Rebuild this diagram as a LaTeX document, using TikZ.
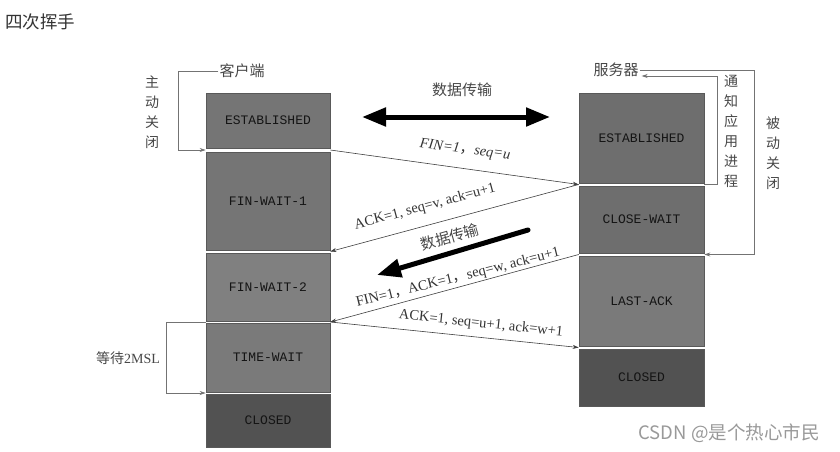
\documentclass[tikz,border=0pt]{standalone}
\usepackage{fontspec}
\setmainfont{Liberation Serif}
\setmonofont{Liberation Mono}
\newfontfamily\cjk{Noto Sans CJK SC}
\usetikzlibrary{arrows.meta,calc}
\begin{document}
\begin{tikzpicture}[x=1pt,y=-1pt,
  state/.style={draw=black!65, line width=0.6pt, text=black!92, font=\ttfamily\fontsize{13}{13}\selectfont, inner sep=0pt},
  cbox/.style={state, minimum width=124pt},
  sbox/.style={state, minimum width=125pt},
  cn/.style={font=\cjk\fontsize{15}{15}\selectfont, text=black!72, inner sep=1pt},
  vt/.style={font=\cjk\fontsize{14}{20}\selectfont, text=black!72, align=center, inner sep=0pt},
  msg/.style={draw=black!75, line width=0.6pt, -{Stealth[length=6pt,width=4pt]}},
  brk/.style={draw=black!55, line width=0.7pt},
  brka/.style={brk, -{Stealth[length=6pt,width=4pt]}},
  lbl/.style={font=\fontsize{14.5}{14.5}\selectfont, text=black!80, inner sep=0pt},
  big/.style={line width=5pt, black},
]
\useasboundingbox (0,0) rectangle (840,452);
\fill[white] (0,0) rectangle (840,452);

% title
\node[anchor=west, font=\cjk\fontsize{17.5}{17.5}\selectfont, text=black!80, inner sep=0pt] (title) at (5,22) {四次挥手};

% client boxes
\node[cbox, minimum height=55pt, fill=black!54] (cE)  at (268,120.5) {ESTABLISHED};
\node[cbox, minimum height=98pt, fill=black!54] (cF1) at (268,201)   {FIN-WAIT-1};
\node[cbox, minimum height=68pt, fill=black!50] (cF2) at (268,287)   {FIN-WAIT-2};
\node[cbox, minimum height=69pt, fill=black!52] (cT)  at (268,357.5) {TIME-WAIT};
\node[cbox, minimum height=53pt, fill=black!68] (cC)  at (268,420.5) {CLOSED};

% server boxes
\node[sbox, minimum height=90pt, fill=black!57] (sE)  at (641.5,138)   {ESTABLISHED};
\node[sbox, minimum height=67pt, fill=black!57] (sCW) at (641.5,219.5) {CLOSE-WAIT};
\node[sbox, minimum height=90pt, fill=black!52] (sL)  at (641.5,301)   {LAST-ACK};
\node[sbox, minimum height=57pt, fill=black!68] (sC)  at (641.5,377.5) {CLOSED};

% headers
\node[cn] (cl) at (242,71) {客户端};
\node[cn] (sv) at (616,70) {服务器};

% gap coordinates
\coordinate (cg1e) at ($(cE.south east)!0.5!(cF1.north east)$);
\coordinate (cg1w) at ($(cE.south west)!0.5!(cF1.north west)$);
\coordinate (cg2e) at ($(cF1.south east)!0.5!(cF2.north east)$);
\coordinate (cg3e) at ($(cF2.south east)!0.5!(cT.north east)$);
\coordinate (cg3w) at ($(cF2.south west)!0.5!(cT.north west)$);
\coordinate (cg4w) at ($(cT.south west)!0.5!(cC.north west)$);
\coordinate (sg1w) at ($(sE.south west)!0.5!(sCW.north west)$);
\coordinate (sg1e) at ($(sE.south east)!0.5!(sCW.north east)$);
\coordinate (sg2w) at ($(sCW.south west)!0.5!(sL.north west)$);
\coordinate (sg2e) at ($(sCW.south east)!0.5!(sL.north east)$);
\coordinate (sg3w) at ($(sL.south west)!0.5!(sC.north west)$);

% messages
\draw[msg] (cg1e) -- (sg1w);
\draw[msg] (sg1w) -- (cg2e);
\draw[msg] (sg2w) -- (cg3e);
\draw[msg] (cg3e) -- (sg3w);

\node[lbl, rotate=-7.5] (m1) at (465,150) {\itshape FIN=1{\cjk\upshape ，}seq=u};
\node[lbl, rotate=15] (m2) at (425,207) {ACK=1, seq=v, ack=u+1};
\node[lbl, rotate=14] (m3) at (458,278) {FIN=1{\cjk ，}ACK=1{\cjk ，}seq=w, ack=u+1};
\node[lbl, rotate=-6] (m4) at (481,324) {ACK=1, seq=u+1, ack=w+1};

% data transfer arrows
\coordinate (d1l) at (362,117);
\coordinate (d1r) at (550,117);
\draw[big, {Triangle[length=24pt,width=18pt]}-{Triangle[length=24pt,width=18pt]}] (d1l) -- (d1r);
\node[cn] (dt1) at (462,90) {数据传输};

\coordinate (d2s) at (528,230);
\coordinate (d2e) at (377,275);
\draw[big, line cap=round, -{Triangle[length=24pt,width=18pt]}] (d2s) -- (d2e);
\node[cn, rotate=16] (dt2) at (450,237) {数据传输};

% brackets
\draw[brka] (cl.west) -- ++(-40,0) |- (cg1w);
\node[vt] (zd) at (152,112) {主\\动\\关\\闭};

\coordinate (svin) at ($(sv.east)+(2,6)$);
\coordinate (svout) at ($(sv.east)+(0,0)$);
\draw[brka] (sg1e) -- ++(13,0) |- (svin);
\node[vt] (tz) at (731,131) {通\\知\\应\\用\\进\\程};

\draw[brka] (svout) -- ++(115,0) |- (sg2e);
\node[vt] (bd) at (773,153) {被\\动\\关\\闭};

\draw[brka] (cg3w) -- ++(-39,0) |- (cg4w);
\node[font=\cjk\fontsize{14}{14}\selectfont, text=black!72, inner sep=0pt] (wait) at (128,358) {等待{\fontspec{Liberation Serif}2MSL}};

% watermark
\node[font=\cjk\fontsize{18.5}{18.5}\selectfont, text=black!40, inner sep=0pt] (wm) at (729,433) {CSDN @是个热心市民};
\end{tikzpicture}
\end{document}
